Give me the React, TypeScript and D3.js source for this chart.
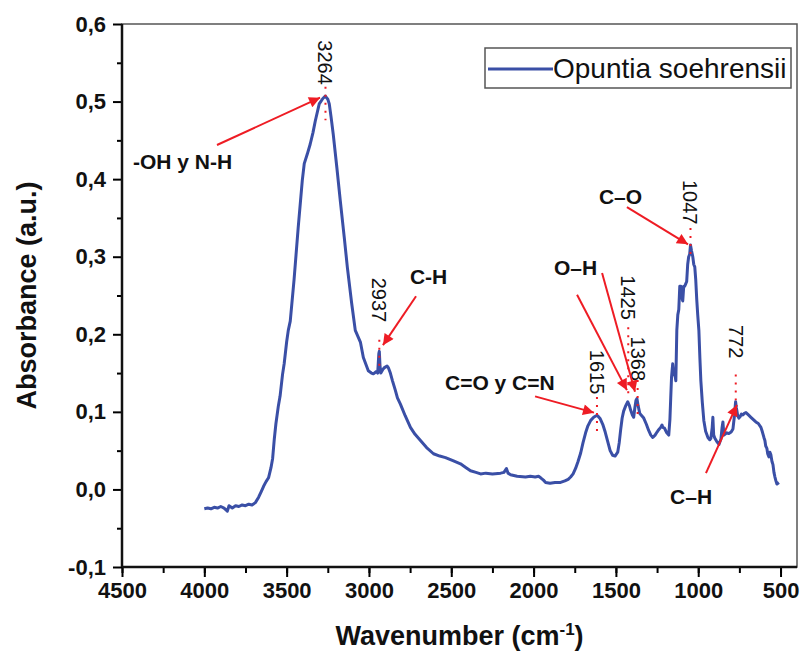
import React, { useEffect, useRef } from 'react';
import * as d3 from 'd3';

// spectrum (wavenumber cm-1, absorbance)
const wavenumbers = [
  4000, 3980, 3960, 3940, 3920, 3900, 3880, 3860, 3850, 3830, 3810, 3790, 3770, 3750, 3730, 3710,
  3690, 3670, 3655, 3640, 3625, 3610, 3595, 3585, 3575, 3565, 3550, 3540, 3525, 3515, 3500, 3490,
  3478, 3455, 3430, 3405, 3393, 3375, 3357, 3340, 3326, 3302, 3280, 3265, 3250, 3241, 3230, 3217,
  3195, 3174, 3150, 3131, 3105, 3083, 3052, 3034, 3004, 2985, 2973, 2955, 2947, 2940, 2937, 2933,
  2928, 2915, 2906, 2890, 2882, 2870, 2857, 2840, 2827, 2809, 2780, 2748, 2720, 2687, 2650, 2608,
  2570, 2535, 2490, 2444, 2410, 2383, 2350, 2322, 2290, 2250, 2200, 2180, 2165, 2155, 2140, 2100,
  2049, 2020, 1990, 1970, 1957, 1940, 1927, 1900, 1870, 1836, 1810, 1790, 1775, 1760, 1745, 1730,
  1714, 1700, 1684, 1670, 1653, 1635, 1620, 1611, 1595, 1580, 1565, 1550, 1535, 1520, 1505, 1489,
  1480, 1471, 1462, 1453, 1440, 1428, 1418, 1410, 1400, 1392, 1385, 1378, 1372, 1365, 1355, 1343,
  1331, 1315, 1301, 1288, 1276, 1262, 1250, 1240, 1228, 1220, 1215, 1205, 1198, 1191, 1179, 1172,
  1167, 1162, 1155, 1149, 1143, 1136, 1130, 1124, 1118, 1112, 1106, 1100, 1094, 1088, 1082, 1076,
  1070, 1064, 1058, 1052, 1047, 1041, 1033, 1027, 1021, 1015, 1009, 1003, 996, 990, 984, 975,
  966, 955, 941, 930, 923, 915, 911, 906, 899, 888, 874, 862, 855, 850, 844, 838,
  826, 814, 800, 789, 780, 773, 768, 760, 753, 745, 738, 729, 720, 710, 695, 680,
  665, 650, 635, 619, 610, 601, 595, 590, 583, 578, 571, 565, 559, 552, 546, 540,
  534, 528, 522, 516, 510,
];
const absorbance = [
  -0.025, -0.024, -0.025, -0.023, -0.024, -0.022, -0.024, -0.028, -0.021, -0.024, -0.021, -0.022, -0.020, -0.021, -0.019, -0.020,
  -0.017, -0.010, -0.003, 0.004, 0.010, 0.015, 0.028, 0.040, 0.065, 0.085, 0.108, 0.120, 0.148, 0.162, 0.190, 0.205,
  0.217, 0.270, 0.337, 0.398, 0.420, 0.432, 0.445, 0.460, 0.475, 0.497, 0.504, 0.507, 0.503, 0.497, 0.480, 0.458,
  0.415, 0.372, 0.325, 0.286, 0.240, 0.205, 0.190, 0.170, 0.153, 0.150, 0.149, 0.152, 0.150, 0.175, 0.178, 0.160,
  0.150, 0.155, 0.157, 0.159, 0.157, 0.150, 0.140, 0.128, 0.118, 0.110, 0.095, 0.080, 0.071, 0.063, 0.054, 0.046,
  0.043, 0.041, 0.037, 0.033, 0.028, 0.024, 0.022, 0.020, 0.021, 0.020, 0.021, 0.022, 0.027, 0.021, 0.019, 0.017,
  0.016, 0.017, 0.016, 0.017, 0.015, 0.012, 0.009, 0.008, 0.009, 0.009, 0.011, 0.013, 0.016, 0.020, 0.027, 0.036,
  0.047, 0.060, 0.073, 0.082, 0.089, 0.093, 0.095, 0.095, 0.091, 0.084, 0.074, 0.062, 0.050, 0.044, 0.043, 0.048,
  0.060, 0.077, 0.092, 0.101, 0.108, 0.113, 0.108, 0.102, 0.096, 0.093, 0.105, 0.115, 0.117, 0.108, 0.098, 0.095,
  0.092, 0.084, 0.076, 0.070, 0.067, 0.070, 0.074, 0.077, 0.080, 0.083, 0.080, 0.079, 0.076, 0.073, 0.070, 0.090,
  0.118, 0.145, 0.162, 0.148, 0.150, 0.140, 0.205, 0.225, 0.232, 0.262, 0.262, 0.248, 0.243, 0.262, 0.262, 0.265,
  0.268, 0.290, 0.300, 0.303, 0.315, 0.308, 0.300, 0.290, 0.287, 0.270, 0.245, 0.225, 0.205, 0.170, 0.140, 0.112,
  0.089, 0.075, 0.067, 0.064, 0.066, 0.080, 0.093, 0.070, 0.066, 0.062, 0.058, 0.065, 0.080, 0.087, 0.070, 0.071,
  0.073, 0.072, 0.074, 0.078, 0.095, 0.113, 0.105, 0.095, 0.092, 0.094, 0.097, 0.096, 0.098, 0.099, 0.096, 0.093,
  0.090, 0.087, 0.085, 0.080, 0.074, 0.067, 0.063, 0.056, 0.053, 0.046, 0.042, 0.048, 0.045, 0.036, 0.032, 0.022,
  0.016, 0.011, 0.007, 0.008, 0.009,
];

const xTicks = [4500, 4000, 3500, 3000, 2500, 2000, 1500, 1000, 500];
const yTicks = [-0.1, 0, 0.1, 0.2, 0.3, 0.4, 0.5, 0.6];

// peak numbers (rotated) with their dotted guides
const peakNames = ['3264', '2937', '1615', '1425', '1368', '1047', '772'];
const peakWn = [3264, 2937, 1615, 1425, 1368, 1047, 772];
const peakLabelTop = [0.579, 0.273, 0.180, 0.276, 0.197, 0.399, 0.212];
const peakDotTop = [0.519, 0.193, 0.119, 0.209, 0.141, 0.337, 0.148];
const peakDotBottom = [0.476, 0.154, 0.073, 0.119, 0.093, 0.296, 0.115];

// group labels
const groupNames = ['-OH y N-H', 'C-H', 'C=O y C=N', 'O–H', 'C–O', 'C–H'];
const groupWn = [4433, 2751, 2538, 1876, 1603, 1171];
const groupAbs = [0.413, 0.265, 0.128, 0.276, 0.368, -0.019];

// arrows: from -> to
const arrowFromWn = [3923, 2714, 1991, 1736, 1584, 1433, 953];
const arrowFromAbs = [0.444, 0.249, 0.120, 0.251, 0.279, 0.364, 0.021];
const arrowToWn = [3297, 2915, 1633, 1433, 1384, 1062, 765];
const arrowToAbs = [0.505, 0.186, 0.099, 0.128, 0.126, 0.316, 0.109];

const seriesName = 'Opuntia soehrensii';

const W = 802;
const H = 655;
const FONT = 'Liberation Sans, Arial, sans-serif';

export default function App() {
  const ref = useRef<SVGSVGElement>(null);

  useEffect(() => {
    const svg = d3.select(ref.current);
    svg.selectAll('*').remove();

    const left = 122, right = 797, top = 24, bottom = 567;
    const x = d3.scaleLinear().domain([4500, 400]).range([left, right]);
    const y = d3.scaleLinear().domain([-0.1, 0.6]).range([bottom, top]);

    svg.append('defs').append('marker')
      .attr('id', 'arr')
      .attr('viewBox', '0 0 10 10')
      .attr('refX', 10).attr('refY', 5)
      .attr('markerWidth', 8).attr('markerHeight', 5.5)
      .attr('markerUnits', 'strokeWidth')
      .attr('orient', 'auto')
      .append('path').attr('d', 'M0,0 L10,5 L0,10 z').attr('fill', '#ee1c24');

    // frame
    svg.append('rect')
      .attr('x', left).attr('y', top)
      .attr('width', right - left).attr('height', bottom - top)
      .attr('fill', 'none').attr('stroke', '#555').attr('stroke-width', 1.5);

    const fmt = (v: number) => d3.format('.1f')(v).replace('.', ',').replace('−', '-');

    // x axis
    const xMin = svg.append('g').attr('transform', `translate(0,${bottom})`)
      .call(d3.axisBottom(x).tickValues(d3.range(4500, 399, -250)).tickSize(6).tickFormat(() => ''));
    xMin.select('.domain').remove();
    xMin.selectAll('.tick line').attr('stroke-width', 2);
    const xMaj = svg.append('g').attr('transform', `translate(0,${bottom})`)
      .call(d3.axisBottom(x).tickValues(xTicks).tickSize(10).tickPadding(5).tickFormat(d => String(d)));
    xMaj.select('.domain').remove();
    xMaj.selectAll('.tick line').attr('stroke-width', 2);
    xMaj.selectAll('text').attr('font-family', FONT).attr('font-size', 22).attr('font-weight', 'bold').attr('fill', '#111');
    svg.append('line').attr('x1', left).attr('x2', right).attr('y1', bottom).attr('y2', bottom)
      .attr('stroke', '#111').attr('stroke-width', 2.5);

    // y axis
    const yMin = svg.append('g').attr('transform', `translate(${left},0)`)
      .call(d3.axisLeft(y).tickValues(d3.range(-0.05, 0.6, 0.1)).tickSize(5).tickFormat(() => ''));
    yMin.select('.domain').remove();
    yMin.selectAll('.tick line').attr('stroke-width', 2);
    const yMaj = svg.append('g').attr('transform', `translate(${left},0)`)
      .call(d3.axisLeft(y).tickValues(yTicks).tickSize(9).tickPadding(7).tickFormat(d => fmt(+d)));
    yMaj.select('.domain').remove();
    yMaj.selectAll('.tick line').attr('stroke-width', 2);
    yMaj.selectAll('text').attr('font-family', FONT).attr('font-size', 22).attr('font-weight', 'bold').attr('fill', '#111');
    svg.append('line').attr('x1', left).attr('x2', left).attr('y1', top).attr('y2', bottom)
      .attr('stroke', '#111').attr('stroke-width', 2.5);

    // axis titles
    svg.append('text')
      .attr('transform', `translate(36,${(top + bottom) / 2}) rotate(-90)`)
      .attr('text-anchor', 'middle')
      .attr('font-family', FONT).attr('font-size', 27).attr('font-weight', 'bold').attr('fill', '#111')
      .text('Absorbance (a.u.)');
    const xt = svg.append('text')
      .attr('x', (left + right) / 2).attr('y', 645)
      .attr('text-anchor', 'middle')
      .attr('font-family', FONT).attr('font-size', 27).attr('font-weight', 'bold').attr('fill', '#111');
    xt.append('tspan').text('Wavenumber (cm');
    xt.append('tspan').attr('dy', -10).attr('font-size', 17).text('-1');
    xt.append('tspan').attr('dy', 10).text(')');

    // spectrum
    const pts = wavenumbers.map((w, i) => [w, absorbance[i]] as [number, number]);
    const line = d3.line<[number, number]>().x(d => x(d[0])).y(d => y(d[1]));
    svg.append('path')
      .attr('d', line(pts))
      .attr('fill', 'none')
      .attr('stroke', '#3a4fa6')
      .attr('stroke-width', 3)
      .attr('stroke-linejoin', 'round');

    // dotted guides and peak numbers
    peakWn.forEach((w, i) => {
      svg.append('line')
        .attr('x1', x(w)).attr('x2', x(w))
        .attr('y1', y(peakDotTop[i])).attr('y2', y(peakDotBottom[i]))
        .attr('stroke', '#ee1c24').attr('stroke-width', 2).attr('stroke-dasharray', '2,6');
      svg.append('text')
        .attr('transform', `translate(${x(w)},${y(peakLabelTop[i])}) rotate(90)`)
        .attr('dy', '0.35em')
        .attr('font-family', FONT).attr('font-size', 20).attr('fill', '#111')
        .text(peakNames[i]);
    });

    // arrows
    arrowFromWn.forEach((w, i) => {
      svg.append('line')
        .attr('x1', x(w)).attr('y1', y(arrowFromAbs[i]))
        .attr('x2', x(arrowToWn[i])).attr('y2', y(arrowToAbs[i]))
        .attr('stroke', '#ee1c24').attr('stroke-width', 2)
        .attr('marker-end', 'url(#arr)');
    });

    // group labels
    groupNames.forEach((t, i) => {
      svg.append('text')
        .attr('x', x(groupWn[i])).attr('y', y(groupAbs[i]))
        .attr('font-family', FONT).attr('font-size', 21).attr('font-weight', 'bold').attr('fill', '#111')
        .text(t);
    });

    // legend
    svg.append('rect')
      .attr('x', 485).attr('y', 48).attr('width', 306).attr('height', 40)
      .attr('fill', 'white').attr('stroke', '#555').attr('stroke-width', 1.5);
    svg.append('line')
      .attr('x1', 488).attr('x2', 553).attr('y1', 69).attr('y2', 69)
      .attr('stroke', '#3a4fa6').attr('stroke-width', 3);
    svg.append('text')
      .attr('x', 553).attr('y', 78)
      .attr('font-family', FONT).attr('font-size', 28).attr('fill', '#111')
      .text(seriesName);
  }, []);

  return (
    <svg
      ref={ref}
      width={W}
      height={H}
      style={{ position: 'absolute', left: 0, top: 0, background: 'white' }}
    />
  );
}
